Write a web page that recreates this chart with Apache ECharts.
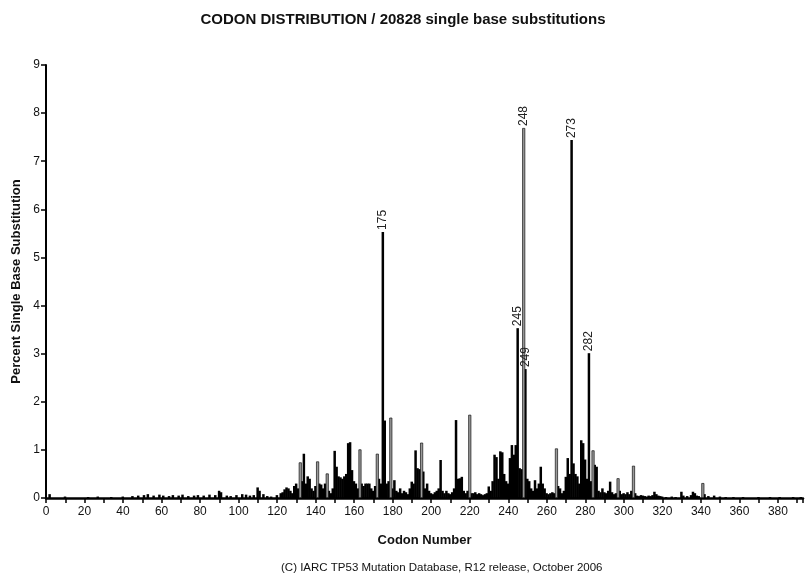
<!DOCTYPE html>
<html>
<head>
<meta charset="utf-8">
<script src="https://cdn.jsdelivr.net/npm/echarts@6/dist/echarts.min.js"></script>
<style>
html,body{margin:0;padding:0;background:#fff;}
#chart{width:806px;height:579px;}
</style>
</head>
<body>
<div id="chart"></div>
<script>
// ---- data ----
var titleText = 'CODON DISTRIBUTION / 20828 single base substitutions';
var footerText = '(C) IARC TP53 Mutation Database, R12 release, October 2006';
var xTickValues = [0,20,40,60,80,100,120,140,160,180,200,220,240,260,280,300,320,340,360,380];
var yTickValues = [0,1,2,3,4,5,6,7,8,9];

// solid (dark) bars
var darkCodons = [2,10,22,27,34,40,45,48,51,53,56,59,61,64,66,69,71,74,77,79,82,85,88,90,91,94,96,99,102,104,106,108,110,111,113,115,117,120,122,123,124,125,126,127,128,129,130,131,
133,134,135,136,137,138,139,140,142,143,144,145,147,148,149,150,151,152,153,154,155,156,157,158,159,160,161,162,164,165,166,167,168,169,170,171,173,174,175,176,177,178,180,
181,182,183,184,185,186,187,188,189,190,191,192,193,194,196,197,198,199,200,201,202,203,204,205,206,207,208,209,210,211,212,213,214,215,216,217,218,219,221,222,223,224,225,226,227,228,229,230,
231,232,233,234,235,236,237,238,239,240,241,242,243,244,245,246,247,249,250,251,252,253,254,255,256,257,258,259,260,261,262,263,264,266,267,268,269,270,271,272,273,274,275,276,277,278,279,280,
281,282,283,285,286,287,288,289,290,291,292,293,294,295,296,298,299,300,301,302,303,304,306,307,308,309,310,311,312,313,314,315,316,317,318,319,320,322,325,327,330,331,333,335,336,337,338,339,
342,344,347,350,353,357,362,370,376,381,388,392];
var darkValues = [0.08,0.03,0.02,0.03,0.02,0.03,0.04,0.05,0.06,0.08,0.05,0.07,0.05,0.04,0.06,0.05,0.07,0.04,0.05,0.06,0.05,0.07,0.06,0.15,0.12,0.05,0.04,0.06,0.08,0.07,0.05,0.06,0.22,0.15,0.08,0.04,0.03,0.06,0.1,0.12,0.18,0.22,0.2,0.15,0.1,0.25,0.3,0.2,
0.35,0.92,0.3,0.45,0.4,0.2,0.15,0.25,0.3,0.28,0.2,0.3,0.15,0.1,0.2,0.98,0.65,0.45,0.43,0.4,0.45,0.5,1.14,1.16,0.58,0.35,0.3,0.2,0.3,0.25,0.3,0.3,0.3,0.2,0.15,0.25,0.4,0.3,5.53,1.61,0.3,0.35,0.2,
0.37,0.15,0.12,0.2,0.1,0.15,0.12,0.08,0.2,0.34,0.3,0.99,0.62,0.6,0.55,0.2,0.3,0.15,0.1,0.08,0.12,0.15,0.2,0.79,0.15,0.1,0.15,0.1,0.08,0.12,0.2,1.62,0.4,0.41,0.44,0.15,0.1,0.15,0.1,0.1,0.12,0.08,0.1,0.08,0.06,0.08,0.1,0.24,
0.15,0.35,0.9,0.85,0.4,0.97,0.95,0.5,0.35,0.3,0.83,1.1,0.9,1.1,3.53,0.62,0.6,2.68,0.4,0.35,0.2,0.15,0.37,0.2,0.3,0.65,0.3,0.2,0.1,0.08,0.1,0.12,0.1,0.25,0.2,0.1,0.15,0.44,0.83,0.5,7.44,0.72,0.5,0.45,0.3,1.2,1.14,0.8,
0.4,3.01,0.35,0.69,0.65,0.15,0.12,0.2,0.12,0.1,0.15,0.34,0.12,0.08,0.1,0.15,0.08,0.1,0.08,0.12,0.08,0.15,0.1,0.05,0.04,0.06,0.05,0.04,0.03,0.05,0.04,0.06,0.13,0.08,0.05,0.04,0.03,0.02,0.03,0.02,0.13,0.05,0.04,0.06,0.13,0.1,0.05,0.04,
0.08,0.04,0.05,0.03,0.02,0.02,0.02,0.02,0.02,0.02,0.02,0.02];

// outlined (light) bars
var lightCodons = [132,141,146,163,172,179,195,220,248,265,284,297,305,341];
var lightValues = [0.74,0.76,0.51,1.01,0.92,1.67,1.15,1.73,7.69,1.03,0.99,0.41,0.67,0.31];

// bars carrying a codon label
var labeledCodons = [175,245,248,249,273,282];

// ---- build ----
function build(codons, values){
  var out = [];
  for (var i=0;i<codons.length;i++){
    var item = {value:[codons[i], values[i]]};
    if (labeledCodons.indexOf(codons[i]) >= 0){
      item.label = {show:true, formatter:String(codons[i])};
    }
    out.push(item);
  }
  return out;
}
var labelStyle = {
  show:false, position:'top', rotate:90, align:'left', verticalAlign:'middle',
  distance:2, fontFamily:'Liberation Sans, Arial, sans-serif', fontSize:12, color:'#222'
};

var chart = echarts.init(document.getElementById('chart'), null, {renderer:'canvas'});
chart.setOption({
  animation:false,
  backgroundColor:'#fff',
  title:[
    {text:titleText, left:'center', top:7,
     textStyle:{fontFamily:'Liberation Sans, Arial', fontWeight:'bold', fontSize:15, color:'#111'}},
    {text:footerText, left:276, top:557,
     textStyle:{fontFamily:'Liberation Sans, Arial', fontWeight:'normal', fontSize:11.5, color:'#111'}}
  ],
  grid:{left:46, right:0, top:65, bottom:81, containLabel:false},
  xAxis:{
    type:'value', min:0, max:393, interval:20,
    name:'Codon Number', nameLocation:'middle', nameGap:36,
    nameTextStyle:{fontFamily:'Liberation Sans, Arial', fontWeight:'bold', fontSize:13, color:'#111'},
    axisLine:{show:true, onZero:false, lineStyle:{color:'#000', width:2.5}},
    axisTick:{show:true, length:5, lineStyle:{color:'#000', width:1.5}},
    minorTick:{show:true, splitNumber:2, length:5, lineStyle:{color:'#000', width:1.5}},
    splitLine:{show:false},
    axisLabel:{fontFamily:'Liberation Sans, Arial', fontSize:12, color:'#111', margin:8,
      formatter:function(v){ return xTickValues.indexOf(v) >= 0 ? String(v) : ''; }}
  },
  yAxis:{
    type:'value', min:0, max:9, interval:1,
    name:'Percent Single Base Substitution', nameLocation:'middle', nameGap:21, nameRotate:90,
    nameTextStyle:{fontFamily:'Liberation Sans, Arial', fontWeight:'bold', fontSize:13, color:'#111'},
    axisLine:{show:true, lineStyle:{color:'#000', width:2}},
    axisTick:{show:true, length:5, lineStyle:{color:'#000', width:1.5}},
    splitLine:{show:false},
    axisLabel:{fontFamily:'Liberation Sans, Arial', fontSize:12, color:'#111', margin:6,
      formatter:function(v){ return yTickValues.indexOf(v) >= 0 ? String(v) : ''; }}
  },
  series:[
    {type:'bar', name:'dark', barWidth:2.5, barGap:'-100%',
     itemStyle:{color:'#000'}, label:labelStyle,
     data:build(darkCodons, darkValues)},
    {type:'bar', name:'light', barWidth:3, barGap:'-100%',
     itemStyle:{color:'#9a9a9a', borderColor:'#111', borderWidth:0.7}, label:labelStyle,
     data:build(lightCodons, lightValues)}
  ]
});
</script>
</body>
</html>
